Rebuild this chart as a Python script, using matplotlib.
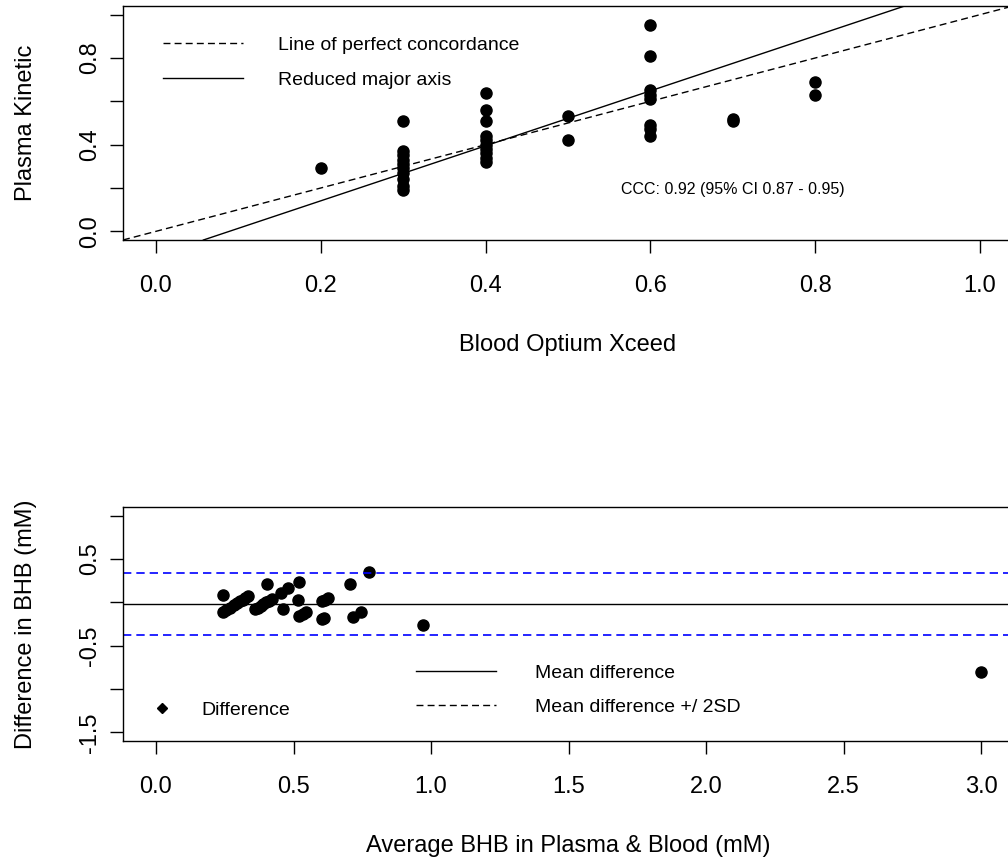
"""
Plasma Kinetic vs Blood Optium Xceed: concordance plot + Bland-Altman plot
(base-R style look recreated with matplotlib)
"""

import matplotlib
matplotlib.use("Agg")
import matplotlib.pyplot as plt
from matplotlib.lines import Line2D
import numpy as np

plt.rcParams["font.family"] = ["Liberation Sans", "DejaVu Sans"]

blood = [0.2,
         0.3, 0.3, 0.3, 0.3, 0.3, 0.3, 0.3, 0.3, 0.3, 0.3,
         0.4, 0.4, 0.4, 0.4, 0.4, 0.4, 0.4, 0.4, 0.4, 0.4,
         0.5, 0.5,
         0.6, 0.6, 0.6, 0.6, 0.6, 0.6, 0.6, 0.6,
         0.7, 0.7,
         0.8, 0.8,
         1.1, 3.4]
plasma = [0.29,
          0.51, 0.37, 0.35, 0.33, 0.31, 0.29, 0.27, 0.24, 0.21, 0.19,
          0.64, 0.56, 0.51, 0.44, 0.42, 0.40, 0.38, 0.36, 0.34, 0.32,
          0.53, 0.42,
          0.95, 0.81, 0.65, 0.63, 0.61, 0.49, 0.47, 0.44,
          0.52, 0.51,
          0.69, 0.63,
          0.84, 2.60]

# fitted values as shown on the chart
rma_intercept = -0.113
rma_slope = 1.269
ccc_text = "CCC: 0.92 (95% CI 0.87 - 0.95)"
mean_diff = -0.02
loa_upper = 0.34
loa_lower = -0.38

top_xticks = [0.0, 0.2, 0.4, 0.6, 0.8, 1.0]
top_yticks = [0.0, 0.2, 0.4, 0.6, 0.8, 1.0]
top_ylabels = ["0.0", "", "0.4", "", "0.8", ""]
bot_xticks = [0.0, 0.5, 1.0, 1.5, 2.0, 2.5, 3.0]
bot_yticks = [-1.5, -1.0, -0.5, 0.0, 0.5, 1.0]
bot_ylabels = ["-1.5", "", "-0.5", "", "0.5", ""]

blood = np.array(blood)
plasma = np.array(plasma)
avg = (blood + plasma) / 2
diff = plasma - blood

W, H = 1008, 863
FS = 17
fig = plt.figure(figsize=(W / 100, H / 100), dpi=100)
ax1 = fig.add_axes([123 / W, 1 - 240 / H, 890 / W, 234 / H])
ax2 = fig.add_axes([123 / W, 1 - 741 / H, 891 / W, 234 / H])


def r_style(ax):
    for s in ax.spines.values():
        s.set_linewidth(1.0)
        s.set_color("black")
    ax.tick_params(axis="both", direction="out", length=9.4, width=1.0,
                   labelsize=FS, colors="black")
    ax.tick_params(axis="x", pad=15.6)
    ax.tick_params(axis="y", pad=6.3)
    for lab in ax.get_yticklabels():
        lab.set_rotation(90)
        lab.set_va("center")


# --- top panel: concordance ---
ax1.plot(blood, plasma, "o", color="black", markersize=8, linestyle="none")
ax1.axline((0, 0), slope=1, color="black", lw=1.0, dashes=(5, 3))
ax1.axline((0, rma_intercept), slope=rma_slope, color="black", lw=1.0)
ax1.set_xlim(-0.04, 1.04)
ax1.set_ylim(-0.04, 1.04)
ax1.set_xticks(top_xticks)
ax1.set_xticklabels([f"{t:.1f}" for t in top_xticks])
ax1.set_yticks(top_yticks)
ax1.set_yticklabels(top_ylabels)
r_style(ax1)
ax1.text(0.7, 0.195, ccc_text, fontsize=11.5, ha="center", va="center")
ax1.set_xlabel("Blood Optium Xceed", fontsize=FS)
ax1.set_ylabel("Plasma Kinetic", fontsize=FS)
ax1.xaxis.set_label_coords(0.5, -105 / 234)
ax1.xaxis.label.set_va("center")
ax1.yaxis.set_label_coords(-97 / 890, 0.5)
ax1.yaxis.label.set_va("center")

leg1 = [Line2D([], [], color="black", lw=1.0, dashes=(5, 3)),
        Line2D([], [], color="black", lw=1.0)]
ax1.legend(leg1, ["Line of perfect concordance", "Reduced major axis"],
           loc="upper left", bbox_to_anchor=(40 / 890, 1 - 30 / 234),
           frameon=False, fontsize=14, handlelength=4.1, handletextpad=1.8,
           labelspacing=0.9, borderpad=0, borderaxespad=0)

# --- bottom panel: Bland-Altman ---
ax2.plot(avg, diff, "o", color="black", markersize=8, linestyle="none")
ax2.axhline(mean_diff, color="black", lw=1.0)
ax2.axhline(loa_upper, color="blue", lw=1.2, dashes=(5, 3))
ax2.axhline(loa_lower, color="blue", lw=1.2, dashes=(5, 3))
ax2.set_xlim(-0.12, 3.12)
ax2.set_ylim(-1.6, 1.1)
ax2.set_xticks(bot_xticks)
ax2.set_xticklabels([f"{t:.1f}" for t in bot_xticks])
ax2.set_yticks(bot_yticks)
ax2.set_yticklabels(bot_ylabels)
r_style(ax2)
ax2.set_xlabel("Average BHB in Plasma & Blood (mM)", fontsize=FS)
ax2.set_ylabel("Difference in BHB (mM)", fontsize=FS)
ax2.xaxis.set_label_coords(0.5, -105 / 234)
ax2.xaxis.label.set_va("center")
ax2.yaxis.set_label_coords(-97 / 891, 0.5)
ax2.yaxis.label.set_va("center")

leg_pts = ax2.legend([Line2D([], [], marker="D", color="black", markersize=5,
                             linestyle="none")], ["Difference"],
                     loc="upper left", bbox_to_anchor=(20 / 891, 1 - 194 / 234),
                     frameon=False, fontsize=14, handlelength=2.0,
                     handletextpad=1.0, borderpad=0, borderaxespad=0)
ax2.add_artist(leg_pts)
leg2 = [Line2D([], [], color="black", lw=1.0),
        Line2D([], [], color="black", lw=1.0, dashes=(5, 3))]
ax2.legend(leg2, ["Mean difference", "Mean difference +/ 2SD"],
           loc="upper left", bbox_to_anchor=(293 / 891, 1 - 157 / 234),
           frameon=False, fontsize=14, handlelength=4.1, handletextpad=2.0,
           labelspacing=0.85, borderpad=0, borderaxespad=0)

fig.savefig("out.png", dpi=100)
